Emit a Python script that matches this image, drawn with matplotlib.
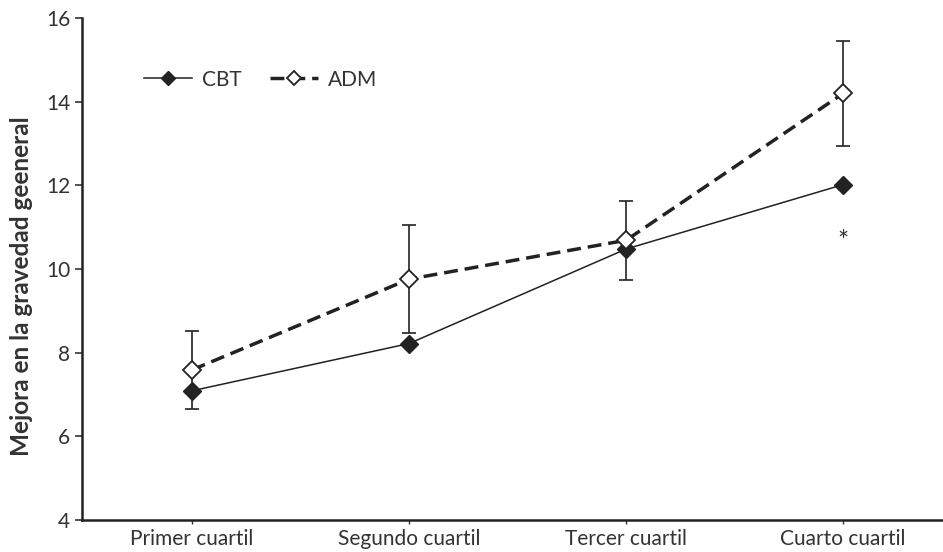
import matplotlib
matplotlib.use("Agg")
from matplotlib import pyplot as plt

# datos
categorias = ["Primer cuartil", "Segundo cuartil", "Tercer cuartil", "Cuarto cuartil"]
cbt = [7.09, 8.22, 10.48, 12.02]
adm = [7.59, 9.76, 10.69, 14.20]
adm_err = [0.93, 1.30, 0.94, 1.25]
asterisco_y = 10.64

plt.rcParams['font.family'] = ['Lato', 'DejaVu Sans']

fig = plt.figure(figsize=(9.43, 5.52), dpi=100)
ax = fig.add_axes([0.087, 0.058, 0.912, 0.909])

x = list(range(len(categorias)))

ax.errorbar(x, adm, yerr=adm_err, fmt='none', ecolor='#222222', elinewidth=1.2,
            capsize=5, capthick=1.2, zorder=2)
ax.plot(x, cbt, color='#222222', lw=1.1, marker='D', ms=9, mfc='#222222',
        mec='#222222', label="CBT", zorder=3)
ax.plot(x, adm, color='#222222', lw=2.5, ls=(0, (4, 2)), marker='D', ms=9,
        mfc='white', mec='#222222', mew=1.3, label="ADM", zorder=4)

ax.text(3, asterisco_y, "*", ha='center', va='center', fontsize=19, color='#333333')

ax.set_xlim(-0.507, 3.456)
ax.set_ylim(4, 16)
ax.set_yticks([4, 6, 8, 10, 12, 14, 16])
ax.set_xticks(x)
ax.set_xticklabels(categorias)
ax.tick_params(axis='both', labelsize=15, colors='#333333', labelcolor='#333333')
ax.tick_params(axis='y', length=5, width=1.2)
ax.tick_params(axis='x', length=3, width=1)

for s in ['top', 'right']:
    ax.spines[s].set_visible(False)
for s in ['left', 'bottom']:
    ax.spines[s].set_linewidth(1.8)
    ax.spines[s].set_color('#222222')

ax.set_ylabel("Mejora en la gravedad geeneral", fontsize=17.5, fontweight='bold',
              color='#333333')
ax.yaxis.set_label_coords(-0.057, 0.466)

ax.legend(loc='upper left', bbox_to_anchor=(0.05, 0.935), ncol=2, frameon=False,
          fontsize=15, handlelength=2.3, columnspacing=1.35, handletextpad=0.5,
          markerscale=0.8, labelcolor='#333333')

fig.savefig("out.png", dpi=100)
